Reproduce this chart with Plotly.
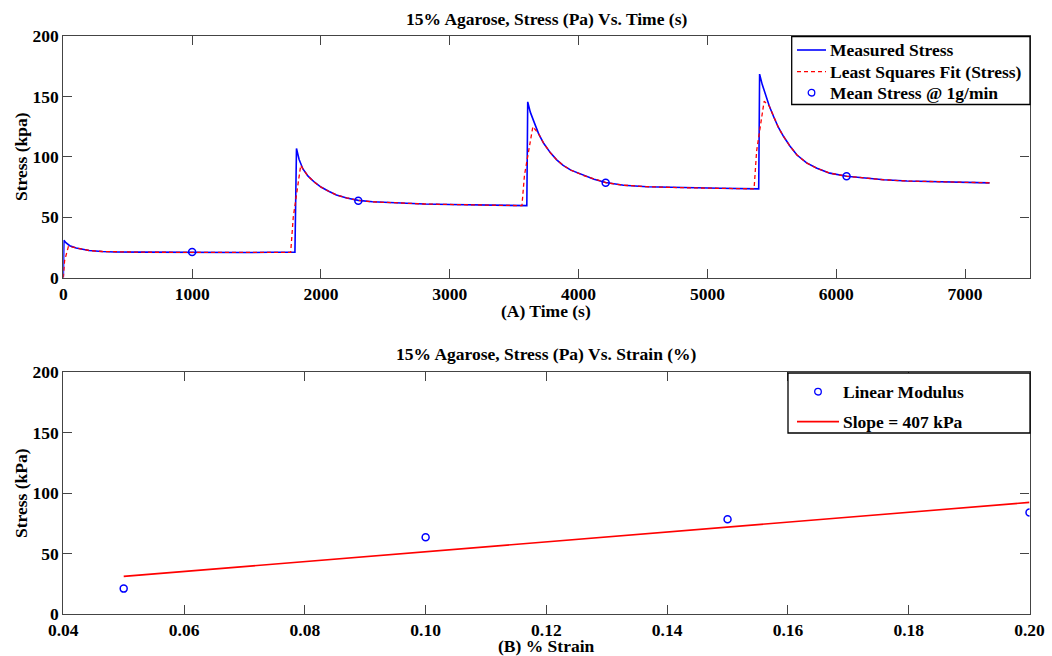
import plotly.graph_objects as go

# ---- Stress relaxation record (time in s, stress in kPa) ----
time_s = [0, 5, 20, 50, 100, 150, 200, 300, 400, 600, 800, 1000, 1200, 1400, 1600, 1798,
          1810, 1830, 1860, 1900, 1950, 2000, 2060, 2120, 2200, 2290, 2400, 2600, 2800, 3000, 3300, 3598,
          3605, 3625, 3650, 3690, 3730, 3780, 3830, 3880, 3940, 4040, 4120, 4210, 4350, 4530, 4800, 5100, 5398,
          5405, 5425, 5450, 5480, 5515, 5550, 5590, 5640, 5695, 5770, 5850, 5950, 6080, 6200, 6370, 6550,
          6750, 7000, 7190]
measured_stress = [0, 31, 29, 26.5, 24.5, 23.3, 22.5, 21.7, 21.3, 21.2, 21.0, 21.0, 21.2, 20.8, 21.0, 21.0,
                   107, 98, 90, 84, 79, 75, 71.5, 68.5, 66, 64, 62.8, 61.6, 61.0, 60.6, 60.2, 59.6,
                   145.5, 137, 130, 119, 111, 103.5, 97.5, 93, 89, 84.5, 81.5, 78.7, 76.5, 75.3, 74.5, 74.0, 73.5,
                   168.5, 160, 152, 142, 133, 124.5, 117, 109, 101.5, 95, 90.5, 86.5, 84.0, 82.5, 81.0, 80.0,
                   79.4, 78.8, 78.5]

# ---- Least squares fit of the record ----
fit_time_s = [0, 10, 40, 100, 150, 200, 300, 400, 600, 1000, 1400, 1765, 1785, 1843, 1860, 1900, 1950, 2000,
              2060, 2120, 2200, 2290, 2400, 2600, 2800, 3000, 3300, 3560, 3580, 3645, 3690, 3730, 3780, 3830,
              3880, 3940, 4040, 4120, 4210, 4350, 4530, 4800, 5100, 5362, 5382, 5440, 5480, 5515, 5550, 5590,
              5640, 5695, 5770, 5850, 5950, 6080, 6200, 6370, 6550, 6750, 7000, 7190]
fit_stress = [0, 14, 26, 24.5, 23.3, 22.5, 21.7, 21.3, 21.1, 21.0, 21.0, 21.0, 50, 93, 90, 84, 79, 75,
              71.5, 68.5, 66, 64, 62.8, 61.6, 61.0, 60.6, 60.2, 59.6, 85, 125, 119, 111, 103.5, 97.5,
              93, 89, 84.5, 81.5, 78.7, 76.5, 75.3, 74.5, 74.0, 73.5, 105, 146, 142, 133, 124.5, 117,
              109, 101.5, 95, 90.5, 86.5, 84.0, 82.5, 81.0, 80.0, 79.4, 78.8, 78.5]

# ---- Mean stress at each loading step ----
mean_time_s = [1000, 2290, 4210, 6080]
mean_stress = [21.2, 63.6, 78.5, 84.0]
strain = [0.05, 0.10, 0.15, 0.20]

# linear modulus (kPa per unit strain) through the mean of the points
slope_kpa = 407
fit_strain = [0.05, 0.20]

W, H = 1052, 656
TXT = dict(family="Liberation Serif", size=17.5, color="black", weight="bold")
TICK = dict(family="Liberation Serif", size=17.5, color="black", weight="bold")
AX = "#444444"
BLUE, RED = "#0000ff", "#ff0000"

mx = sum(strain) / len(strain)
my = sum(mean_stress) / len(mean_stress)
fit_line = [my + slope_kpa * (s - mx) for s in fit_strain]

fig = go.Figure()

fig.add_trace(go.Scatter(x=time_s, y=measured_stress, mode="lines", name="Measured Stress",
                         line=dict(color=BLUE, width=1.6), xaxis="x", yaxis="y"))
fig.add_trace(go.Scatter(x=fit_time_s, y=fit_stress, mode="lines", name="Least Squares Fit (Stress)",
                         line=dict(color=RED, width=1.3, dash="4px,3px"), xaxis="x", yaxis="y"))
fig.add_trace(go.Scatter(x=mean_time_s, y=mean_stress, mode="markers", name="Mean Stress @ 1g/min",
                         marker=dict(symbol="circle-open", color=BLUE, size=7, line=dict(width=1.5)),
                         xaxis="x", yaxis="y"))
fig.add_trace(go.Scatter(x=strain, y=mean_stress, mode="markers", name="Linear Modulus",
                         marker=dict(symbol="circle-open", color=BLUE, size=7, line=dict(width=1.5)),
                         xaxis="x2", yaxis="y2"))
fig.add_trace(go.Scatter(x=fit_strain, y=fit_line, mode="lines", name="Slope = %d kPa" % slope_kpa,
                         line=dict(color=RED, width=1.6), xaxis="x2", yaxis="y2"))

# plot-area placement in pixels
L, R = 63.3, 1029.5
TOP_T, TOP_B = 36.0, 277.7
BOT_T, BOT_B = 372.0, 614.3


def px(x):
    return x / W


def py(y):
    return 1 - y / H


x_dom = [px(L), px(R)]
top_dom = [py(TOP_B), py(TOP_T)]
bot_dom = [py(BOT_B), py(BOT_T)]

axis_common = dict(showline=True, linecolor=AX, linewidth=1.2, mirror="ticks", ticks="inside",
                   ticklen=9, tickcolor=AX, tickwidth=1.2, showgrid=False, zeroline=False,
                   tickfont=TICK, automargin=False)

shapes, annotations = [], []


def legend_box(x0, y0, x1, y1, rows, sample, text_x):
    """Boxed legend in the plot corner: rows = (kind, label, colour, y-centre)."""
    shapes.append(dict(type="rect", xref="paper", yref="paper", x0=px(x0), x1=px(x1), y0=py(y1), y1=py(y0),
                       line=dict(color="black", width=1.3), fillcolor="white", layer="above"))
    for kind, label, colour, yc in rows:
        if kind == "marker":
            cx = (sample[0] + sample[1]) / 2
            shapes.append(dict(type="circle", xref="paper", yref="paper", x0=px(cx - 3.3), x1=px(cx + 3.3),
                               y0=py(yc + 3.3), y1=py(yc - 3.3), line=dict(color=colour, width=1.3),
                               layer="above"))
        else:
            shapes.append(dict(type="line", xref="paper", yref="paper", x0=px(sample[0]), x1=px(sample[1]),
                               y0=py(yc), y1=py(yc), layer="above",
                               line=dict(color=colour, width=1.6 if kind == "line" else 1.3,
                                         dash="solid" if kind == "line" else "4px,3px")))
        annotations.append(dict(text=label, x=px(text_x), y=py(yc), xref="paper", yref="paper",
                                showarrow=False, font=TXT, xanchor="left", yanchor="middle"))


legend_box(791.7, 36.7, 1030, 104.5,
           [("line", fig.data[0].name, BLUE, 50),
            ("dash", fig.data[1].name, RED, 71.7),
            ("marker", fig.data[2].name, BLUE, 92.7)],
           (797, 826), 828)
legend_box(788, 373, 1030, 433,
           [("marker", fig.data[3].name, BLUE, 391.7),
            ("line", fig.data[4].name, RED, 421.6)],
           (797, 839), 841)

cx = px((L + R) / 2)
annotations += [
    dict(text="15% Agarose, Stress (Pa) Vs. Time (s)", x=cx, y=py(18.5)),
    dict(text="(A) Time (s)", x=cx, y=py(310.5)),
    dict(text="Stress (kpa)", x=px(21), y=py(157), textangle=-90),
    dict(text="15% Agarose, Stress (Pa) Vs. Strain (%)", x=cx, y=py(354)),
    dict(text="(B) % Strain", x=cx, y=py(646)),
    dict(text="Stress (kPa)", x=px(21), y=py(493), textangle=-90),
]
for a in annotations[-6:]:
    a.update(xref="paper", yref="paper", showarrow=False, font=TXT, xanchor="center", yanchor="middle")

fig.update_layout(
    width=W, height=H,
    margin=dict(l=0, r=0, t=0, b=0, autoexpand=False),
    paper_bgcolor="white", plot_bgcolor="white",
    showlegend=False,
    xaxis=dict(domain=x_dom, anchor="y", range=[0, 7500],
               tickvals=[0, 1000, 2000, 3000, 4000, 5000, 6000, 7000], **axis_common),
    yaxis=dict(domain=top_dom, anchor="x", range=[0, 200], tickvals=[0, 50, 100, 150, 200], **axis_common),
    xaxis2=dict(domain=x_dom, anchor="y2", range=[0.04, 0.20],
                tickvals=[0.04, 0.06, 0.08, 0.10, 0.12, 0.14, 0.16, 0.18, 0.20],
                ticktext=["0.04", "0.06", "0.08", "0.10", "0.12", "0.14", "0.16", "0.18", "0.20"],
                **axis_common),
    yaxis2=dict(domain=bot_dom, anchor="x2", range=[0, 200], tickvals=[0, 50, 100, 150, 200], **axis_common),
    shapes=shapes,
    annotations=annotations,
)

fig.write_html("out.html",
               post_script="document.body.style.margin='0';document.body.style.overflow='hidden';")
